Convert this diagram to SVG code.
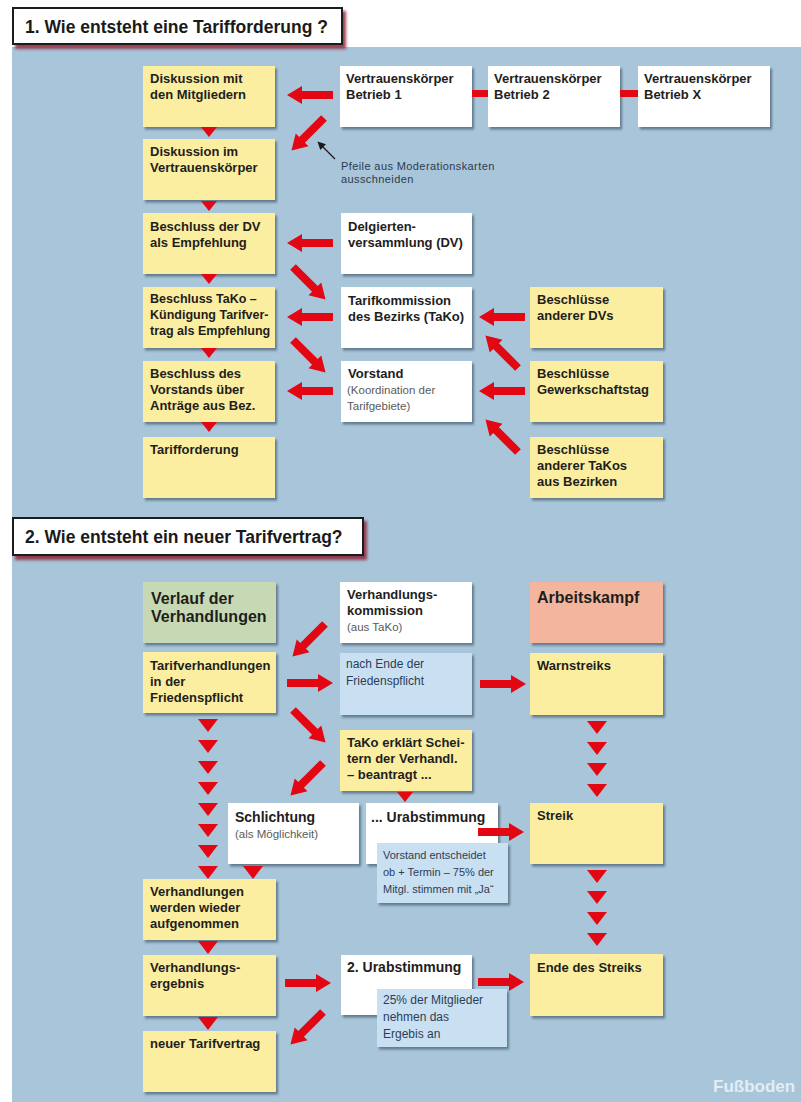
<svg xmlns="http://www.w3.org/2000/svg" width="801" height="1102" viewBox="0 0 801 1102">
<style>
.bg{fill:#a8c5da}
.card{filter:url(#sh)}
.y{fill:#fbeea0}
.w{fill:#ffffff}
.lb{fill:#c9e0f2}
.g{fill:#c6d9b4}
.o{fill:#f3b59d}
text{font-family:"Liberation Sans",Arial,sans-serif}
.t{font-weight:bold;font-size:13px;fill:#1e1e1c}
.tn{font-weight:bold;font-size:12.5px;fill:#1e1e1c}
.tl{font-weight:bold;font-size:16px;fill:#1e1e1c}
.t14{font-weight:bold;font-size:14px;fill:#1e1e1c}
.n{font-size:11.5px;fill:#5a5a5a}
.bt{font-size:11px;fill:#2d3d55}
.bt2{font-size:12px;fill:#2d3d55}
.h{font-weight:bold;font-size:17.5px;fill:#1a1a1a}
.note{font-size:11px;letter-spacing:0.4px;fill:#2b3b50}
.red{fill:#e30613}
.title{fill:#ffffff;stroke:#1a1a1a;stroke-width:2;filter:url(#tsh)}
.wm{font-weight:bold;font-size:17px;fill:#e4edf4}
</style>
<defs>
<filter id="sh" x="-10%" y="-10%" width="130%" height="140%">
<feDropShadow dx="2" dy="2.5" stdDeviation="1.2" flood-color="#34475a" flood-opacity="0.6"/>
</filter>
<filter id="tsh" x="-10%" y="-20%" width="130%" height="160%">
<feDropShadow dx="3" dy="4" stdDeviation="1.5" flood-color="#8e2f3f" flood-opacity="0.9"/>
</filter>
<polygon id="arr" points="0,-4 31,-4 31,-9 46,0 31,9 31,4 0,4"/>
<polygon id="tri" points="-8,0 8,0 0,10"/>
<polygon id="tri2" points="-10,0 10,0 0,13"/>
<marker id="blk" viewBox="0 0 10 10" refX="2" refY="5" markerWidth="8" markerHeight="8" markerUnits="userSpaceOnUse" orient="auto">
<path d="M0,0 L10,5 L0,10 z" fill="#1a1a1a"/>
</marker>
</defs>

<rect class="bg" x="12" y="47" width="789" height="1055"/>

<!-- Section 1 title -->
<g id="title1">
<rect class="title" x="13" y="8" width="329" height="36"/>
<text class="h" x="25" y="33">1. Wie entsteht eine Tarifforderung ?</text>
</g>

<!-- Section 1 left column -->
<g id="diskussion-mitglieder"><rect class="card y" x="143" y="66" width="132" height="61"/><text class="t"><tspan x="150" y="83">Diskussion mit</tspan><tspan x="150" y="99">den Mitgliedern</tspan></text></g>
<g id="diskussion-vk"><rect class="card y" x="143" y="139" width="132" height="61"/><text class="t"><tspan x="150" y="156">Diskussion im</tspan><tspan x="150" y="172">Vertrauenskörper</tspan></text></g>
<g id="beschluss-dv"><rect class="card y" x="143" y="213" width="132" height="61"/><text class="t"><tspan x="150" y="231">Beschluss der DV</tspan><tspan x="150" y="247">als Empfehlung</tspan></text></g>
<g id="beschluss-tako"><rect class="card y" x="143" y="287" width="132" height="61"/><text class="tn"><tspan x="150" y="303">Beschluss TaKo –</tspan><tspan x="150" y="319">Kündigung Tarifver-</tspan><tspan x="150" y="335">trag als Empfehlung</tspan></text></g>
<g id="beschluss-vorstand"><rect class="card y" x="143" y="361" width="132" height="61"/><text class="t"><tspan x="150" y="378">Beschluss des</tspan><tspan x="150" y="394">Vorstands über</tspan><tspan x="150" y="410">Anträge aus Bez.</tspan></text></g>
<g id="tarifforderung"><rect class="card y" x="143" y="437" width="132" height="61"/><text class="t"><tspan x="150" y="454">Tarifforderung</tspan></text></g>

<!-- Section 1 white column -->
<g id="vk-betrieb1"><rect class="card w" x="340" y="66" width="132" height="61"/><text class="t"><tspan x="346" y="83">Vertrauenskörper</tspan><tspan x="346" y="99">Betrieb 1</tspan></text></g>
<g id="vk-betrieb2"><rect class="card w" x="488" y="66" width="132" height="61"/><text class="t"><tspan x="494" y="83">Vertrauenskörper</tspan><tspan x="494" y="99">Betrieb 2</tspan></text></g>
<g id="vk-betriebx"><rect class="card w" x="638" y="66" width="132" height="61"/><text class="t"><tspan x="644" y="83">Vertrauenskörper</tspan><tspan x="644" y="99">Betrieb X</tspan></text></g>
<g id="delegiertenversammlung"><rect class="card w" x="341" y="213" width="131" height="61"/><text class="t"><tspan x="348" y="231">Delgierten-</tspan><tspan x="348" y="247">versammlung (DV)</tspan></text></g>
<g id="tarifkommission"><rect class="card w" x="341" y="287" width="131" height="61"/><text class="t"><tspan x="348" y="305">Tarifkommission</tspan><tspan x="348" y="321">des Bezirks (TaKo)</tspan></text></g>
<g id="vorstand"><rect class="card w" x="341" y="361" width="131" height="61"/><text class="t" x="348" y="378">Vorstand</text><text class="n"><tspan x="347" y="394">(Koordination der</tspan><tspan x="347" y="410">Tarifgebiete)</tspan></text></g>

<!-- Section 1 right column -->
<g id="beschluesse-dvs"><rect class="card y" x="530" y="287" width="133" height="61"/><text class="t"><tspan x="537" y="304">Beschlüsse</tspan><tspan x="537" y="320">anderer DVs</tspan></text></g>
<g id="beschluesse-gewerkschaftstag"><rect class="card y" x="530" y="361" width="133" height="61"/><text class="t"><tspan x="537" y="378">Beschlüsse</tspan><tspan x="537" y="394">Gewerkschaftstag</tspan></text></g>
<g id="beschluesse-takos"><rect class="card y" x="530" y="437" width="133" height="61"/><text class="t"><tspan x="537" y="454">Beschlüsse</tspan><tspan x="537" y="470">anderer TaKos</tspan><tspan x="537" y="486">aus Bezirken</tspan></text></g>

<g id="note">
<line x1="335" y1="159" x2="322" y2="146" stroke="#1a1a1a" stroke-width="1.3" marker-end="url(#blk)"/>
<text class="note"><tspan x="341" y="170">Pfeile aus Moderationskarten</tspan><tspan x="341" y="183">ausschneiden</tspan></text>
</g>

<!-- Section 2 title -->
<g id="title2">
<rect class="title" x="13" y="518" width="350" height="37"/>
<text class="h" x="25" y="543">2. Wie entsteht ein neuer Tarifvertrag?</text>
</g>

<!-- Section 2 left column -->
<g id="verlauf"><rect class="card g" x="143" y="582" width="133" height="61"/><text class="tl"><tspan x="151" y="604">Verlauf der</tspan><tspan x="151" y="622">Verhandlungen</tspan></text></g>
<g id="tarifverhandlungen"><rect class="card y" x="143" y="652" width="133" height="61"/><text class="t"><tspan x="150" y="670">Tarifverhandlungen</tspan><tspan x="150" y="686">in der</tspan><tspan x="150" y="702">Friedenspflicht</tspan></text></g>
<g id="wieder-aufgenommen"><rect class="card y" x="143" y="879" width="133" height="61"/><text class="t"><tspan x="150" y="896">Verhandlungen</tspan><tspan x="150" y="912">werden wieder</tspan><tspan x="150" y="928">aufgenommen</tspan></text></g>
<g id="verhandlungsergebnis"><rect class="card y" x="143" y="955" width="133" height="61"/><text class="t"><tspan x="150" y="972">Verhandlungs-</tspan><tspan x="150" y="988">ergebnis</tspan></text></g>
<g id="neuer-tarifvertrag"><rect class="card y" x="143" y="1031" width="133" height="61"/><text class="t"><tspan x="150" y="1048">neuer Tarifvertrag</tspan></text></g>

<!-- Section 2 middle column -->
<g id="verhandlungskommission"><rect class="card w" x="340" y="582" width="132" height="61"/><text class="t"><tspan x="347" y="599">Verhandlungs-</tspan><tspan x="347" y="615">kommission</tspan></text><text class="n" x="347" y="631">(aus TaKo)</text></g>
<g id="nach-ende"><rect class="card lb" x="340" y="653" width="132" height="62"/><text class="bt2"><tspan x="346" y="668">nach Ende der</tspan><tspan x="346" y="685">Friedenspflicht</tspan></text></g>
<g id="tako-scheitern"><rect class="card y" x="340" y="730" width="132" height="61"/><text class="t"><tspan x="347" y="747">TaKo erklärt Schei-</tspan><tspan x="347" y="763">tern der Verhandl.</tspan><tspan x="347" y="779">– beantragt ...</tspan></text></g>
<g id="schlichtung"><rect class="card w" x="228" y="803" width="131" height="61"/><text class="t14" x="235" y="822">Schlichtung</text><text class="n" x="235" y="838">(als Möglichkeit)</text></g>
<g id="urabstimmung"><rect class="card w" x="366" y="803" width="132" height="61"/><text class="t14" x="371" y="822">... Urabstimmung</text></g>
<g id="vorstand-entscheidet"><rect class="card lb" x="377" y="843" width="131" height="60"/><text class="bt"><tspan x="383" y="859">Vorstand entscheidet</tspan><tspan x="383" y="876">ob + Termin – 75% der</tspan><tspan x="383" y="893">Mitgl. stimmen mit „Ja“</tspan></text></g>
<g id="urabstimmung2"><rect class="card w" x="341" y="955" width="131" height="60"/><text class="t14" x="347" y="972">2. Urabstimmung</text></g>
<g id="annahme"><rect class="card lb" x="377" y="989" width="130" height="58"/><text class="bt2"><tspan x="383" y="1004">25% der Mitglieder</tspan><tspan x="383" y="1021">nehmen das</tspan><tspan x="383" y="1038">Ergebis an</tspan></text></g>

<!-- Section 2 right column -->
<g id="arbeitskampf"><rect class="card o" x="530" y="582" width="133" height="61"/><text class="tl" x="537" y="603">Arbeitskampf</text></g>
<g id="warnstreiks"><rect class="card y" x="530" y="653" width="133" height="62"/><text class="t" x="537" y="670">Warnstreiks</text></g>
<g id="streik"><rect class="card y" x="530" y="803" width="133" height="61"/><text class="t" x="537" y="820">Streik</text></g>
<g id="ende-streik"><rect class="card y" x="530" y="954" width="133" height="62"/><text class="t" x="537" y="972">Ende des Streiks</text></g>

<!-- Connectors -->
<g id="connectors" class="red">
<!-- section 1 -->
<rect x="472" y="90" width="16" height="7"/>
<rect x="620" y="90" width="18" height="7"/>
<use href="#arr" transform="translate(333,95) rotate(180)"/>
<use href="#arr" transform="translate(324,118) rotate(135)"/>
<use href="#arr" transform="translate(333,243) rotate(180)"/>
<use href="#arr" transform="translate(293,267) rotate(45)"/>
<use href="#arr" transform="translate(333,317) rotate(180)"/>
<use href="#arr" transform="translate(293,340) rotate(45)"/>
<use href="#arr" transform="translate(333,391) rotate(180)"/>
<use href="#arr" transform="translate(525,317) rotate(180)"/>
<use href="#arr" transform="translate(525,391) rotate(180)"/>
<use href="#arr" transform="translate(518,368) rotate(225)"/>
<use href="#arr" transform="translate(518,452) rotate(225)"/>
<use href="#tri" x="209" y="127"/>
<use href="#tri" x="209" y="201"/>
<use href="#tri" x="209" y="274"/>
<use href="#tri" x="209" y="348"/>
<use href="#tri" x="209" y="422"/>
<!-- section 2 -->
<use href="#arr" transform="translate(325,624) rotate(135)"/>
<use href="#arr" transform="translate(287,683)"/>
<use href="#arr" transform="translate(480,684)"/>
<use href="#arr" transform="translate(293,710) rotate(45)"/>
<use href="#arr" transform="translate(323,763) rotate(135)"/>
<use href="#arr" transform="translate(478,832)"/>
<use href="#arr" transform="translate(285,983)"/>
<use href="#arr" transform="translate(478,982)"/>
<use href="#arr" transform="translate(323,1012) rotate(135)"/>
<use href="#tri2" x="208" y="719"/>
<use href="#tri2" x="208" y="740"/>
<use href="#tri2" x="208" y="761"/>
<use href="#tri2" x="208" y="782"/>
<use href="#tri2" x="208" y="803"/>
<use href="#tri2" x="208" y="824"/>
<use href="#tri2" x="208" y="845"/>
<use href="#tri2" x="208" y="866"/>
<use href="#tri2" x="253" y="866"/>
<use href="#tri" x="405" y="792"/>
<use href="#tri2" x="208" y="941"/>
<use href="#tri2" x="208" y="1017"/>
<use href="#tri2" x="597" y="721"/>
<use href="#tri2" x="597" y="742"/>
<use href="#tri2" x="597" y="763"/>
<use href="#tri2" x="597" y="784"/>
<use href="#tri2" x="597" y="870"/>
<use href="#tri2" x="597" y="891"/>
<use href="#tri2" x="597" y="912"/>
<use href="#tri2" x="597" y="933"/>
</g>

<text class="wm" x="713" y="1092">Fußboden</text>
</svg>
